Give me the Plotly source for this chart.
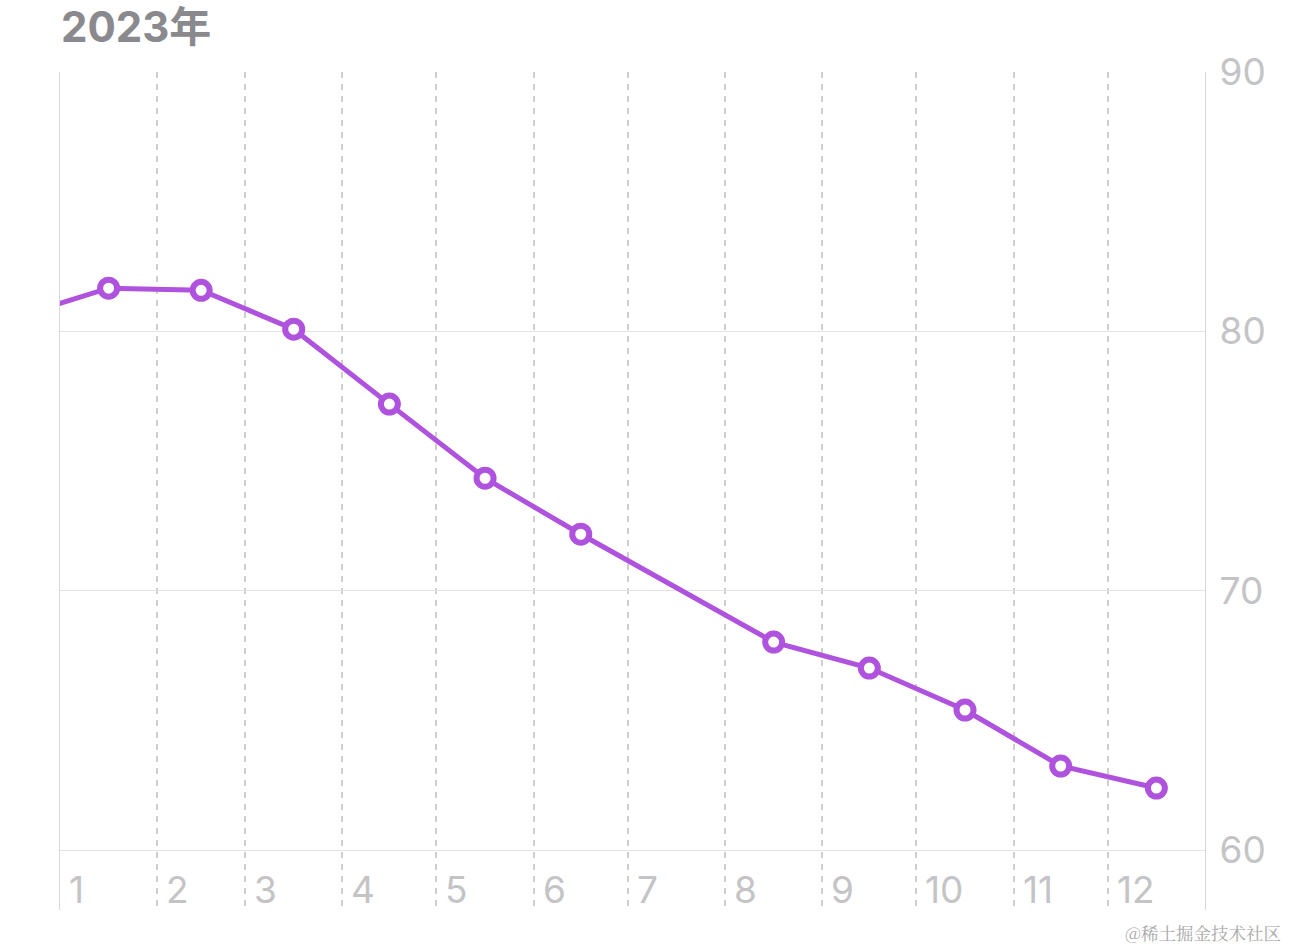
import plotly.graph_objects as go

# monthly values, plotted at the middle of each month (July has no value)
dates = [
    "2022-12-16 12:00", "2023-01-16 12:00", "2023-02-15", "2023-03-16 12:00",
    "2023-04-16", "2023-05-16 12:00", "2023-06-16", "2023-08-16 12:00",
    "2023-09-16", "2023-10-16 12:00", "2023-11-16", "2023-12-16 12:00",
]
values = [80.5, 81.67, 81.59, 80.09, 77.2, 74.34, 72.18, 68.02, 67.02, 65.4, 63.24, 62.39]

month_starts = [
    "2023-01-01", "2023-02-01", "2023-03-01", "2023-04-01", "2023-05-01", "2023-06-01",
    "2023-07-01", "2023-08-01", "2023-09-01", "2023-10-01", "2023-11-01", "2023-12-01",
]
month_labels = ["1", "2", "3", "4", "5", "6", "7", "8", "9", "10", "11", "12"]
y_ticks = [60, 70, 80, 90]

purple = "#AF52DE"
label_grey = "#C4C4C6"
font = "Inter, Roboto, 'Noto Sans CJK SC', sans-serif"

W, H = 1290, 948
L, R, T, B = 60, 85, 72, 38
pw, ph = W - L - R, H - T - B

fig = go.Figure(go.Scatter(
    x=dates,
    y=values,
    mode="lines+markers",
    line=dict(color=purple, width=5),
    marker=dict(size=17, color="white", line=dict(color=purple, width=6)),
    cliponaxis=True,
    hoverinfo="skip",
))

# month numbers sit just right of each dashed month line, below the 60 line
for d, lab in zip(month_starts, month_labels):
    fig.add_annotation(
        x=d, y=21 / ph, xref="x", yref="paper",
        text=lab, showarrow=False, xanchor="left", yanchor="middle",
        xshift=7, font=dict(family=font, size=37, color=label_grey),
    )

fig.add_annotation(
    x=0, y=1 + T / ph, xref="paper", yref="paper",
    text="<b>2023年</b>", showarrow=False, xanchor="left", yanchor="top",
    borderpad=0, font=dict(family=font, size=42, color="#8A8A8E"),
)
fig.add_annotation(
    x=1 + 78 / pw, y=-22 / ph, xref="paper", yref="paper",
    text="@稀土掘金技术社区", showarrow=False, xanchor="right", yanchor="middle",
    font=dict(family="'Noto Serif CJK SC', 'Noto Sans CJK SC'", size=17.5, color="#A8A8A8"),
)

fig.update_layout(
    width=W,
    height=H,
    margin=dict(l=L, r=R, t=T, b=B),
    paper_bgcolor="white",
    plot_bgcolor="white",
    showlegend=False,
    xaxis=dict(
        type="date",
        range=["2023-01-01", "2024-01-01"],
        tickvals=month_starts,
        showticklabels=False,
        showgrid=True,
        gridcolor="#CFCFD1",
        gridwidth=1.5,
        griddash="6px,6px",
        zeroline=False,
        showline=False,
        fixedrange=True,
    ),
    yaxis=dict(
        side="right",
        range=[57.686, 90.01],
        tickvals=y_ticks,
        ticks="",
        ticklabelstandoff=6,
        tickfont=dict(family=font, size=37, color=label_grey),
        showgrid=True,
        gridcolor="#E3E3E5",
        gridwidth=1.3,
        zeroline=False,
        showline=True,
        mirror=True,
        linecolor="#D8D8DA",
        linewidth=1.3,
        fixedrange=True,
    ),
)

# drop the default body margin so the figure fills the window from its corner
fig.write_html(
    "out.html",
    config={"displayModeBar": False},
    post_script="document.body.style.margin='0';",
)
